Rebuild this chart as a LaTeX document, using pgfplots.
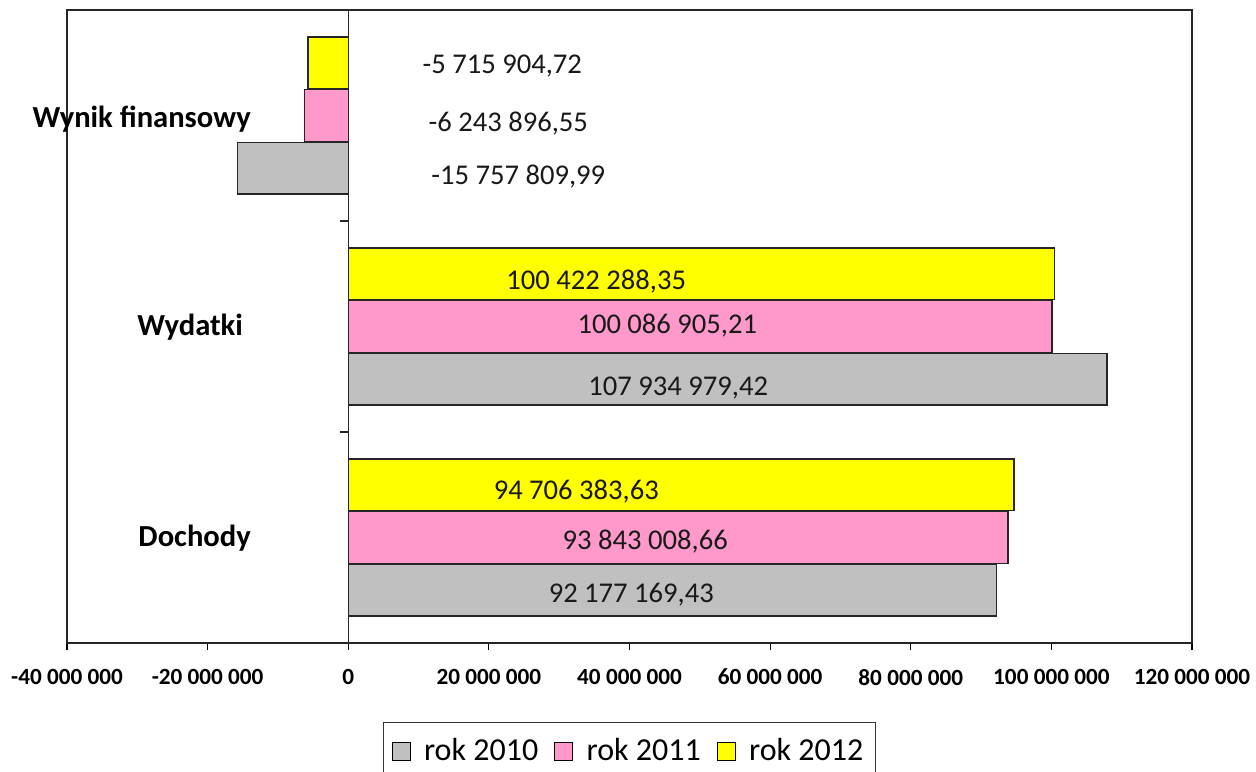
\documentclass[border=0pt]{standalone}
\usepackage{pgfplots}
\pgfplotsset{compat=1.18}
\usepackage{fontspec}
\setmainfont{Carlito}
\definecolor{barGrey}{HTML}{C0C0C0}
\definecolor{barPink}{HTML}{FF99CC}
\definecolor{barYellow}{HTML}{FFFF00}
\tikzset{
  catlab/.style={font=\bfseries\fontsize{15.3}{18}\selectfont, inner sep=0pt, anchor=base east},
  vallab/.style={font=\fontsize{14.3}{17}\selectfont, inner sep=0pt, text=black!90, anchor=base},
}
\begin{document}
\begin{tikzpicture}
\useasboundingbox (0,0) rectangle (628pt,385.5pt);
\begin{axis}[
  at={(33.5pt,64pt)}, anchor=south west,
  scale only axis, width=562.5pt, height=316.5pt,
  xmin=-40000000, xmax=120000000, ymin=0, ymax=3,
  xbar, bar width=0.246,
  xtick={-40000000,-20000000,0,20000000,40000000,60000000,80000000,100000000,120000000},
  xticklabels={-40 000 000,-20 000 000,0,20 000 000,40 000 000,60 000 000,80 000 000,100 000 000,120 000 000},
  scaled x ticks=false,
  ytick=\empty,
  xtick pos=bottom,
  tick align=outside, major tick length=3.5pt,
  axis line style={line width=0.6pt, black!85},
  x tick style={black, line width=0.6pt},
  xticklabel style={font=\bfseries\fontsize{11.6}{14}\selectfont, yshift=-6pt},
  clip=false,
  legend columns=3,
  legend style={at={(0.5,0)}, anchor=north, yshift=-39.5pt,
    draw=black!80, line width=0.6pt, font=\fontsize{16}{19}\selectfont,
    inner xsep=4pt, inner ysep=6pt,
    /tikz/every even column/.append style={column sep=6pt}},
  legend image code/.code={\draw[#1,draw=black,line width=0.6pt] (0pt,-4.5pt) rectangle (9pt,4.5pt); \path (13.5pt,0pt);},
]
\addplot[fill=barGrey, draw=black!85, line width=0.75pt, bar shift=-0.25] coordinates {(92177169.43,0.5) (107934979.42,1.5) (-15757809.99,2.5)};
\addlegendentry{rok 2010}
\addplot[fill=barPink, draw=black!85, line width=0.75pt, bar shift=0] coordinates {(93843008.66,0.5) (100086905.21,1.5) (-6243896.55,2.5)};
\addlegendentry{rok 2011}
\addplot[fill=barYellow, draw=black!85, line width=0.75pt, bar shift=0.25] coordinates {(94706383.63,0.5) (100422288.35,1.5) (-5715904.72,2.5)};
\addlegendentry{rok 2012}

% vertical axis at zero with category ticks
\draw[black!85, line width=0.6pt] (axis cs:0,0) -- (axis cs:0,3);
\draw[black!85, line width=0.6pt] (axis cs:0,1) -- ++(-4pt,0pt);
\draw[black!85, line width=0.6pt] (axis cs:0,2) -- ++(-4pt,0pt);

% category labels
\node[catlab] at (axis cs:-13800000,2.445) {Wynik finansowy};
\node[catlab] at (axis cs:-14930000,1.455) {Wydatki};
\node[catlab] at (axis cs:-13800000,0.455) {Dochody};

% data labels
\node[vallab] at (axis cs:21900000,2.701) {-5 715 904,72};
\node[vallab] at (axis cs:22760000,2.422) {-6 243 896,55};
\node[vallab] at (axis cs:24180000,2.171) {-15 757 809,99};
\node[vallab] at (axis cs:35270000,1.673) {100 422 288,35};
\node[vallab] at (axis cs:45370000,1.469) {100 086 905,21};
\node[vallab] at (axis cs:46930000,1.175) {107 934 979,42};
\node[vallab] at (axis cs:32430000,0.678) {94 706 383,63};
\node[vallab] at (axis cs:42240000,0.441) {93 843 008,66};
\node[vallab] at (axis cs:40250000,0.190) {92 177 169,43};
\end{axis}
\end{tikzpicture}
\end{document}
